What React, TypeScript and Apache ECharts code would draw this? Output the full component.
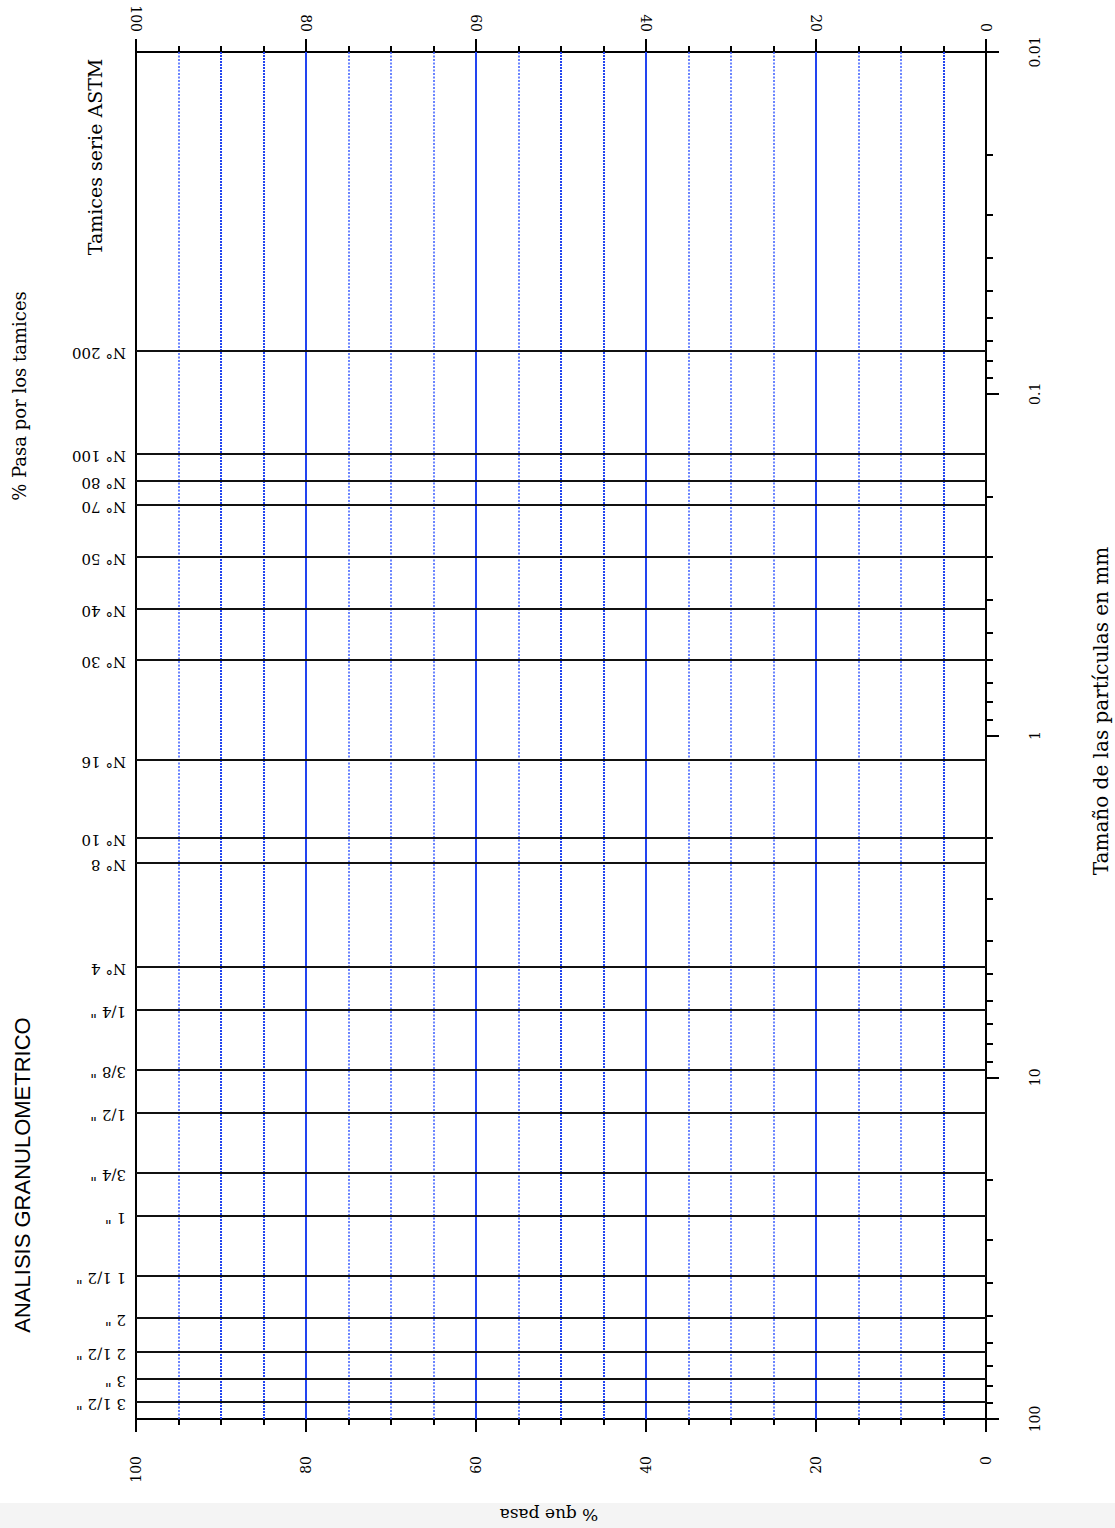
import { useEffect, useRef } from "react";
import * as echarts from "echarts";

// ---- data ----
const percentLabelInterval = 20; // labelled % ticks: 0, 20, 40, 60, 80, 100
const gridSolid = [80, 60, 40, 20];
const gridHeavyDotted = [90, 85, 50, 45, 5];
const gridLightDotted = [95, 75, 70, 65, 55, 35, 30, 25, 15, 10];

const sizeMinorTicks = [
  0.02, 0.03, 0.04, 0.05, 0.06, 0.07, 0.08, 0.09,
  0.2, 0.3, 0.4, 0.5, 0.6, 0.7, 0.8, 0.9,
  2, 3, 4, 5, 6, 7, 8, 9,
  20, 30, 40, 50, 60, 70, 80, 90,
];

const sieveNames = [
  "N° 200", "N° 100", "N° 80", "N° 70", "N° 50", "N° 40", "N° 30", "N° 16",
  "N° 10", "N° 8", "N° 4", '1/4 "', '3/8 "', '1/2 "', '3/4 "', '1 "',
  '1 1/2 "', '2 "', '2 1/2 "', '3 "', '3 1/2 "',
];
const sieveSizes = [
  0.075, 0.15, 0.18, 0.212, 0.3, 0.425, 0.6, 1.18,
  2.0, 2.36, 4.75, 6.35, 9.525, 12.7, 19.05, 25.4,
  38.1, 50.8, 63.5, 76.2, 88.9,
];

const SERIF = "DejaVu Serif";
const BLUE = "#2244f0";
const LIGHT_BLUE = "#3a5cff";

function crisp(v: number, width: number) {
  const r = Math.round(v);
  return Math.round(width) % 2 === 1 ? r + 0.5 : r;
}

function vLineSeries(values: number[], width: number, dash: number[] | null, color: string) {
  return {
    type: "custom",
    xAxisIndex: 0,
    yAxisIndex: 0,
    silent: true,
    z: 2,
    data: values.map((p) => [p, 1]),
    renderItem: (_params: any, api: any) => {
      const a = api.coord([api.value(0), 0.01]);
      const b = api.coord([api.value(0), 100]);
      const x = Math.round(a[0]);
      return {
        type: "line",
        shape: { x1: x, y1: a[1], x2: x, y2: b[1] },
        style: {
          stroke: color,
          lineWidth: width,
          lineDash: dash || undefined,
        },
      };
    },
  };
}

export default function App() {
  const ref = useRef<HTMLDivElement>(null);

  useEffect(() => {
    if (!ref.current) return;
    const chart = echarts.init(ref.current, undefined, { renderer: "svg" });

    const axisLineStyle = { color: "#000", width: 2 };
    const pctAxis = (position: "top" | "bottom", margin: number) => ({
      type: "value",
      position,
      min: 0,
      max: 100,
      interval: percentLabelInterval,
      inverse: true,
      axisLine: { show: true, onZero: false, lineStyle: axisLineStyle },
      axisTick: { show: true, length: 13, lineStyle: { color: "#000", width: 2 } },
      minorTick: { show: true, splitNumber: 4, length: 6, lineStyle: { color: "#000", width: 2 } },
      axisLabel: {
        rotate: 90,
        margin,
        fontFamily: SERIF,
        fontSize: 14,
        color: "#000",
      },
      splitLine: { show: false },
      minorSplitLine: { show: false },
    });

    const option: any = {
      animation: false,
      backgroundColor: "#fff",
      grid: { left: 136, top: 52, width: 850, height: 1367, containLabel: false },
      xAxis: [pctAxis("bottom", 37), pctAxis("top", 20)],
      yAxis: [
        {
          type: "log",
          logBase: 10,
          min: 0.01,
          max: 100,
          interval: 1,
          inverse: true,
          position: "right",
          axisLine: { show: true, onZero: false, lineStyle: axisLineStyle },
          axisTick: { show: true, length: 13, lineStyle: { color: "#000", width: 2 } },
          axisLabel: {
            rotate: 90,
            margin: 42,
            fontFamily: SERIF,
            fontSize: 14,
            color: "#000",
            formatter: (v: number) => String(+Number(v).toPrecision(3)),
          },
          splitLine: { show: false },
        },
        {
          type: "log",
          logBase: 10,
          min: 0.01,
          max: 100,
          inverse: true,
          position: "left",
          axisLine: { show: true, onZero: false, lineStyle: axisLineStyle },
          axisTick: { show: false },
          axisLabel: { show: false },
          splitLine: { show: false },
        },
      ],
      series: [
        vLineSeries(gridLightDotted, 1.5, [2, 1.5], LIGHT_BLUE),
        vLineSeries(gridHeavyDotted, 2, [2, 1], BLUE),
        vLineSeries(gridSolid, 2, null, BLUE),
        {
          type: "custom",
          xAxisIndex: 0,
          yAxisIndex: 0,
          silent: true,
          z: 3,
          data: sieveSizes.map((s, i) => [0, s, i]),
          renderItem: (_params: any, api: any) => {
            const s = api.value(1);
            const l = api.coord([100, s]);
            const r = api.coord([0, s]);
            const y = crisp(l[1], 2);
            return {
              type: "group",
              children: [
                {
                  type: "line",
                  shape: { x1: l[0], y1: y, x2: r[0], y2: y },
                  style: { stroke: "#111", lineWidth: 2 },
                },
                {
                  type: "text",
                  x: l[0] - 10,
                  y: l[1] + 2,
                  rotation: Math.PI,
                  style: {
                    text: sieveNames[api.value(2)],
                    fill: "#000",
                    font: `15px "${SERIF}"`,
                    align: "left",
                    verticalAlign: "middle",
                  },
                },
              ],
            };
          },
        },
        {
          type: "custom",
          xAxisIndex: 0,
          yAxisIndex: 0,
          silent: true,
          z: 3,
          data: sizeMinorTicks.map((v) => [0, v]),
          renderItem: (_params: any, api: any) => {
            const p = api.coord([0, api.value(1)]);
            const y = crisp(p[1], 2);
            return {
              type: "line",
              shape: { x1: p[0], y1: y, x2: p[0] + 7, y2: y },
              style: { stroke: "#000", lineWidth: 2 },
            };
          },
        },
      ],
      graphic: [
        {
          type: "rect",
          silent: true,
          z: -10,
          shape: { x: 0, y: 1503, width: 1115, height: 25 },
          style: { fill: "#f4f4f4" },
        },
        {
          type: "text",
          x: 19,
          y: 396,
          rotation: Math.PI / 2,
          style: {
            text: "% Pasa por los tamices",
            font: `18px "${SERIF}"`,
            fill: "#000",
            align: "center",
            verticalAlign: "middle",
          },
        },
        {
          type: "text",
          x: 22,
          y: 1175,
          rotation: Math.PI / 2,
          style: {
            text: "ANALISIS GRANULOMETRICO",
            font: `22px "Liberation Sans"`,
            fill: "#000",
            align: "center",
            verticalAlign: "middle",
          },
        },
        {
          type: "text",
          x: 95,
          y: 157,
          rotation: Math.PI / 2,
          style: {
            text: "Tamices serie ASTM",
            font: `19px "${SERIF}"`,
            fill: "#000",
            align: "center",
            verticalAlign: "middle",
          },
        },
        {
          type: "text",
          x: 1101,
          y: 711,
          rotation: Math.PI / 2,
          style: {
            text: "Tamaño de las partículas en mm",
            font: `20px "${SERIF}"`,
            fill: "#000",
            align: "center",
            verticalAlign: "middle",
          },
        },
        {
          type: "text",
          x: 549,
          y: 1515,
          rotation: Math.PI,
          style: {
            text: "% que pasa",
            font: `17px "${SERIF}"`,
            fill: "#000",
            align: "center",
            verticalAlign: "middle",
          },
        },
      ],
    };

    chart.setOption(option);
    return () => chart.dispose();
  }, []);

  return (
    <div
      ref={ref}
      style={{ position: "absolute", left: 0, top: 0, width: 1115, height: 1528, background: "#fff" }}
    />
  );
}
